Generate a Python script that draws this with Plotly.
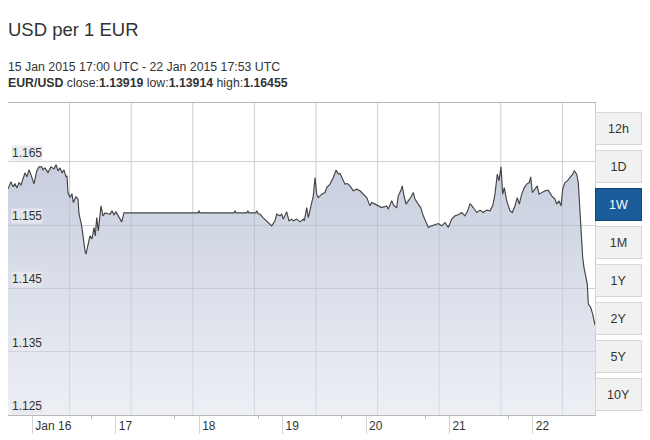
import pandas as pd
import plotly.graph_objects as go

# ---- data (hours since 15 Jan 2015 17:00 UTC, EUR/USD rate) ----
start_time = "2015-01-15 17:00"
hours = [0, 0.86, 1.44, 2.01, 2.59, 3.16, 3.74, 4.32, 4.89, 5.47, 6.04, 6.62, 7.48, 8.26, 8.92,
         9.70, 10.07, 10.64, 11.51, 12.37, 13.23, 13.81, 14.39, 14.96, 15.54, 16.11, 16.69, 16.97,
         17.26, 17.84, 18.41, 18.79, 19.56, 20.14, 20.43, 21.20, 21.43, 22.15, 22.44, 23.02, 23.59,
         24.17, 24.74, 25.12, 25.52, 25.98, 26.76, 27.33, 27.91, 28.77, 29.35, 29.92, 30.50, 31.07,
         31.93, 32.71, 33.37, 33.95,
         54.7, 54.95, 55.2, 65.0, 65.3, 65.6, 68.7, 69.0, 69.3, 71.3, 71.6, 72.0,
         72.50, 73.36, 74.43, 75.38, 75.87, 76.82, 77.31, 78.26, 78.74, 79.20, 80.18, 80.84, 81.62,
         82.08, 83.06, 84.01, 84.96, 85.25, 85.94, 86.40, 87.38, 87.84, 88.33, 88.81, 89.27, 90.25,
         91.20, 91.69, 92.64, 93.59, 94.37, 95.03, 95.52, 96.29, 96.95, 97.62, 98.39, 99.34, 100.32,
         101.27, 102.22, 103.20, 104.15, 104.64, 105.59, 106.54, 107.51, 108.95, 109.41, 110.39,
         111.05, 111.83, 112.29, 112.98, 113.44, 113.93, 114.51, 115.17, 115.86, 116.61, 117.09,
         118.04, 118.73, 119.48, 120.17, 120.92, 121.90, 122.85, 123.80, 124.78, 125.73, 126.68,
         127.65, 128.60, 129.55, 130.53, 131.48, 132.26, 132.92, 133.87, 134.85, 135.80, 136.75,
         137.72, 138.67, 139.45, 140.11, 140.77, 141.26, 141.84, 142.33, 142.79, 143.48, 144.43,
         145.09, 145.87, 146.53, 147.10, 147.79, 148.54, 149.23, 149.98, 150.38, 150.84, 151.62,
         152.28, 152.77, 153.55, 154.50, 155.45, 156.42, 157.37, 157.86, 158.53, 159.10, 159.59,
         160.25, 160.91, 161.69, 162.46, 162.92, 163.61, 164.08, 164.57, 164.85, 165.34, 165.72,
         166.29, 166.67, 166.96, 167.65, 168.22, 168.88]
rates = [1.16073, 1.16184, 1.16105, 1.16152, 1.16089, 1.16168, 1.16137, 1.16231, 1.16326, 1.16263,
         1.16374, 1.16295, 1.16152, 1.16358, 1.16421, 1.16421, 1.16374, 1.16405, 1.16331, 1.16421,
         1.16389, 1.16455, 1.16358, 1.16405, 1.16326, 1.16374, 1.16263, 1.16279, 1.16015, 1.15936,
         1.15994, 1.15857, 1.15947, 1.15915, 1.15679, 1.15489, 1.15378, 1.15094, 1.15042, 1.15173,
         1.15331, 1.15284, 1.15462, 1.15331, 1.15620, 1.15410, 1.15805, 1.15647, 1.15694, 1.15679,
         1.15671, 1.15726, 1.15663, 1.15710, 1.15631, 1.15552, 1.15694, 1.15694,
         1.15694, 1.15726, 1.15694, 1.15694, 1.15726, 1.15694, 1.15694, 1.15726, 1.15694, 1.15694,
         1.15726, 1.15680,
         1.15674, 1.15620, 1.15568, 1.15516, 1.15489, 1.15568, 1.15674, 1.15647, 1.15674, 1.15595,
         1.15710, 1.15568, 1.15595, 1.15568, 1.15595, 1.15552, 1.15595, 1.15568, 1.15778, 1.15620,
         1.15884, 1.15963, 1.16252, 1.15990, 1.15936, 1.15990, 1.16015, 1.16094, 1.16148, 1.16252,
         1.16369, 1.16306, 1.16315, 1.16227, 1.16148, 1.16157, 1.16121, 1.16042, 1.16069, 1.16042,
         1.15990, 1.15936, 1.15805, 1.15857, 1.15832, 1.15805, 1.15778, 1.15805, 1.15753, 1.15884,
         1.15805, 1.15778, 1.15963, 1.16042, 1.16121, 1.15963, 1.15832, 1.15884, 1.15936, 1.16015,
         1.15911, 1.15832, 1.15778, 1.15647, 1.15568, 1.15462, 1.15489, 1.15505, 1.15525, 1.15489,
         1.15541, 1.15462, 1.15595, 1.15647, 1.15663, 1.15699, 1.15647, 1.15726, 1.15841, 1.15778,
         1.15699, 1.15737, 1.15699, 1.15737, 1.15726, 1.15805, 1.15990, 1.16306, 1.16200, 1.16421,
         1.15990, 1.16094, 1.15884, 1.15726, 1.15699, 1.15805, 1.15936, 1.15832, 1.15990, 1.16094,
         1.16148, 1.16173, 1.16263, 1.16015, 1.16069, 1.16121, 1.15990, 1.16015, 1.16042, 1.16053,
         1.15963, 1.15911, 1.15832, 1.15884, 1.15805, 1.16069, 1.16173, 1.16200, 1.16252, 1.16306,
         1.16358, 1.16306, 1.16173, 1.15726, 1.15304, 1.14988, 1.14830, 1.14672, 1.14568, 1.14252,
         1.14198, 1.14094, 1.13919]
end_time = "2015-01-22 17:53"

day_ticks = ["2015-01-16", "2015-01-17", "2015-01-18", "2015-01-19",
             "2015-01-20", "2015-01-21", "2015-01-22"]
day_labels = ["Jan 16", "17", "18", "19", "20", "21", "22"]
minor_marks = ["2015-01-16 17:00", "2015-01-17 17:00", "2015-01-18 17:00",
               "2015-01-19 17:00", "2015-01-20 17:00", "2015-01-21 17:00"]
y_ticks = [1.125, 1.135, 1.145, 1.155, 1.165]
y_range = [1.125, 1.1743]

range_buttons = ["12h", "1D", "1W", "1M", "1Y", "2Y", "5Y", "10Y"]
selected_button = "1W"

title_text = "USD per 1 EUR"
period_text = "15 Jan 2015 17:00 UTC - 22 Jan 2015 17:53 UTC"
stats_text = ("<b>EUR/USD</b> close:<b>1.13919</b> low:<b>1.13914</b> high:<b>1.16455</b>")

# ---- figure ----
times = pd.Timestamp(start_time) + pd.to_timedelta(hours, unit="h")

FONT = "Liberation Sans, Arial, sans-serif"
fig = go.Figure()
fig.add_trace(go.Scatter(
    x=times, y=rates, mode="lines",
    line=dict(color="#444444", width=1.15),
    fill="tozeroy",
    fillgradient=dict(type="vertical",
                      colorscale=[[0, "rgba(222,226,236,0.55)"], [1, "rgba(165,175,202,0.62)"]],
                      start=1.125, stop=1.165),
    hoverinfo="x+y", showlegend=False,
))

# vertical grid lines (evenly spaced, independent of day ticks)
n_vgrid = 9
vspacing = 61.6 / 587
for k in range(1, n_vgrid + 1):
    fig.add_shape(type="line", xref="paper", yref="paper", x0=k * vspacing, x1=k * vspacing,
                  y0=0, y1=1, line=dict(color="rgba(200,200,205,0.9)", width=1), layer="below")

# The page body adds an 8px offset, so margins are set to place the plot area at
# x 8..595, y 103..415 of the 650x440 window.
fig.update_layout(
    width=650, height=440,
    margin=dict(l=0, r=63, t=95, b=33, autoexpand=False),
    paper_bgcolor="white", plot_bgcolor="white",
    font=dict(family=FONT, color="#333333", size=11),
    xaxis=dict(
        range=[pd.Timestamp(start_time), pd.Timestamp(end_time)],
        tickvals=day_ticks, ticktext=day_labels,
        ticks="outside", ticklen=18, tickcolor="#d4d4d4", tickwidth=1,
        ticklabelposition="outside right", ticklabelshift=2, ticklabelstandoff=0,
        tickfont=dict(size=12, color="#333"),
        minor=dict(tickvals=minor_marks, ticks="outside", ticklen=3,
                   tickcolor="#bdbdbd", tickwidth=1, showgrid=False),
        showgrid=False, showline=True, linecolor="#b8b8b8", linewidth=1, mirror=True,
        zeroline=False, fixedrange=True, automargin=False,
    ),
    yaxis=dict(
        range=y_range, tickvals=y_ticks, showticklabels=False, ticks="",
        showgrid=True, gridcolor="#cfcfd4", gridwidth=1,
        showline=True, linecolor="#c8c8c8", mirror=True,
        zeroline=False, fixedrange=True, automargin=False,
    ),
)

# y value labels sitting inside the plot, just above each grid line
for v in y_ticks:
    fig.add_annotation(text=f"{v:.3f}", xref="paper", yref="y", x=0, y=v,
                       xanchor="left", yanchor="bottom", xshift=3, yshift=1,
                       showarrow=False, bgcolor="rgba(232,233,238,0.85)", borderpad=0,
                       font=dict(size=12, color="#333", family=FONT))

# titles
fig.add_annotation(text=title_text, xref="paper", yref="paper", x=0, y=1 + (103 - 30) / 312,
                   xanchor="left", yanchor="middle", showarrow=False, xshift=-2,
                   font=dict(size=18.5, color="#333", family=FONT))
fig.add_annotation(text=period_text, xref="paper", yref="paper", x=0, y=1 + (103 - 67) / 312,
                   xanchor="left", yanchor="middle", showarrow=False, xshift=-2,
                   font=dict(size=12.3, color="#333", family=FONT))
fig.add_annotation(text=stats_text, xref="paper", yref="paper", x=0, y=1 + (103 - 83) / 312,
                   xanchor="left", yanchor="middle", showarrow=False, xshift=-2,
                   font=dict(size=12.3, color="#333", family=FONT))

# range buttons
btn_top = 112
btn_step = 38
for i, label in enumerate(range_buttons):
    cy = btn_top + 16.5 + i * btn_step
    sel = label == selected_button
    fig.add_annotation(
        text=label, xref="paper", yref="paper",
        x=(618.5 - 8) / 587, y=(415 - cy) / 312, xanchor="center", yanchor="middle",
        showarrow=False, width=43, height=29, borderpad=1, borderwidth=1,
        bgcolor="#1b5c9a" if sel else "#f1f1f1",
        bordercolor="#124577" if sel else "#d6d6d6",
        font=dict(size=12.5, color="white" if sel else "#333", family=FONT),
    )

fig.write_html("out.html")
